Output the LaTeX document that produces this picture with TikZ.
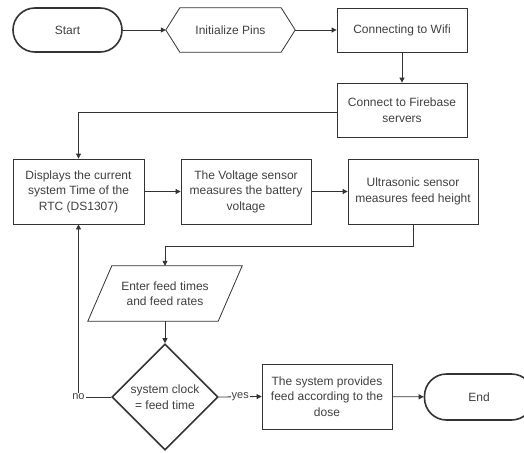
\documentclass[tikz,border=0pt]{standalone}
\usepackage{fontspec}
\setmainfont{Liberation Sans}
\usetikzlibrary{arrows.meta,shapes.geometric}
\definecolor{ink}{HTML}{333333}
\definecolor{txt}{HTML}{404040}
\tikzset{
  base/.style={font=\fontsize{12}{15.5}\selectfont, text=txt, align=center, inner sep=1pt},
  box/.style={base, draw=ink, line width=0.8pt, minimum width=130pt},
  term/.style={base, draw=ink, line width=1.6pt, rounded corners=22pt, minimum width=109pt, minimum height=44pt},
  ghost/.style={base, draw=none},
  arr/.style={draw=ink, line width=0.8pt, -{Triangle[length=5pt,width=5pt]}},
  lbl/.style={font=\fontsize{11}{13}\selectfont, text=txt, fill=white, inner sep=1pt}
}
\begin{document}
\begin{tikzpicture}[x=1pt,y=-1pt]
\useasboundingbox[fill=white] (0,0) rectangle (524,452);
% nodes
\node[term] (start) at (67.5,30) {Start};
\node[ghost, minimum width=129pt, minimum height=44pt] (init) at (230.5,30) {Initialize Pins};
\draw[ink, line width=0.8pt] (init.west) -- ([xshift=14pt]init.north west) -- ([xshift=-14pt]init.north east) -- (init.east) -- ([xshift=-14pt]init.south east) -- ([xshift=14pt]init.south west) -- cycle;
\node[box, minimum height=44pt] (wifi) at (402,30) {Connecting to Wifi};
\node[box, minimum height=54pt] (fire) at (402,110) {Connect to Firebase\\servers};
\node[box, minimum width=131pt, minimum height=65pt] (disp) at (78.5,191.5) {Displays the current\\system Time of the\\RTC (DS1307)};
\node[box, minimum height=65pt] (volt) at (246,191.5) {The Voltage sensor\\measures the battery\\voltage};
\node[box, minimum height=65pt] (ultra) at (413,191.5) {Ultrasonic sensor\\measures feed height};
\node[ghost, minimum width=154pt, minimum height=55pt] (para) at (165,293.5) {Enter feed times\\and feed rates};
\draw[ink, line width=0.8pt] ([xshift=24pt]para.north west) -- (para.north east) -- ([xshift=-24pt]para.south east) -- (para.south west) -- cycle;
\node[base, diamond, aspect=1, draw=ink, line width=1.6pt, minimum width=106pt, minimum height=106pt, inner sep=0pt] (dec) at (165,397) {system clock\\= feed time};
\node[box, minimum height=65pt] (feed) at (327,396.5) {The system provides\\feed according to the\\dose};
\node[term, minimum height=46pt] (end) at (479,397) {End};
% connectors
\draw[arr] (start) -- (init.west);
\draw[arr] (init.east) -- (wifi);
\draw[arr] (wifi) -- (fire);
\draw[arr] ([yshift=-2pt]fire.west) -| (disp.north);
\draw[arr] (disp) -- (volt);
\draw[arr] (volt) -- (ultra);
\coordinate (bend) at ([yshift=-22pt]ultra.south);
\draw[arr] (ultra.south) -- (bend) -| (para.north);
\draw[arr] (para.south) -- (dec.north);
\draw[arr] (dec.east) -- node[lbl] {yes} (feed.west);
\draw[arr] (dec.west) -| node[lbl, pos=0.5] {no} (disp.south);
\draw[arr] (feed) -- (end);
\end{tikzpicture}
\end{document}
